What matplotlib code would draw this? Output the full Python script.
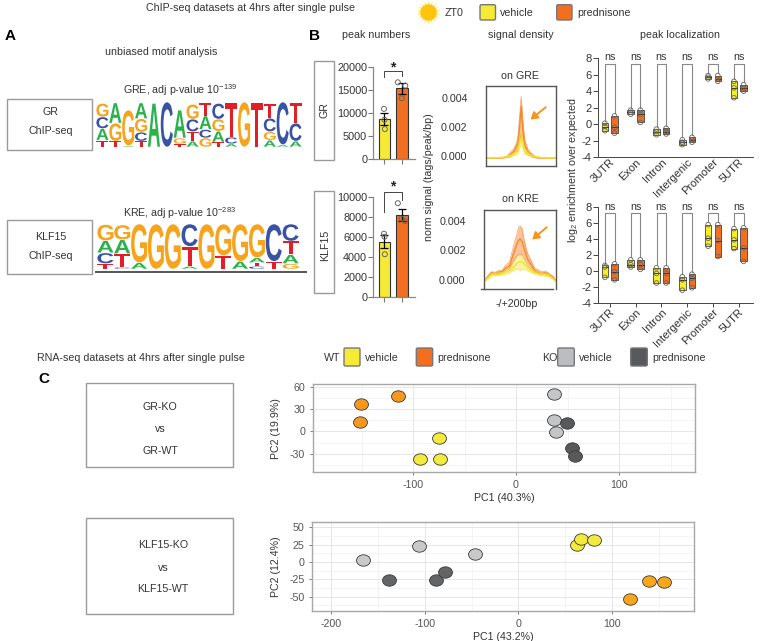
import matplotlib
matplotlib.use("Agg")
import matplotlib.pyplot as plt
from matplotlib.patches import Rectangle, FancyBboxPatch
from matplotlib.patheffects import AbstractPathEffect
from matplotlib.path import Path
from matplotlib.transforms import Affine2D, ScaledTranslation

plt.rcParams["font.family"] = ["Liberation Sans", "DejaVu Sans"]
plt.rcParams["mathtext.default"] = "regular"
plt.rcParams["axes.unicode_minus"] = False

W, H = 764, 641

# motif logos, each column bottom -> top (letter, share of logo height)
gre_logo = [
    [("T", .15), ("A", .26), ("C", .26), ("G", .30)],
    [("T", .13), ("G", .40), ("A", .45)],
    [("A", .03), ("G", .79)],
    [("T", .13), ("C", .20), ("G", .30), ("A", .35)],
    [("A", .97)],
    [("C", 1.0)],
    [("T", .07), ("G", .13), ("A", .62)],
    [("A", .13), ("T", .21), ("C", .28), ("G", .33)],
    [("G", .20), ("C", .19), ("A", .30), ("T", .30)],
    [("T", .11), ("A", .24), ("G", .27), ("C", .35)],
    [("A", .07), ("C", .15), ("T", .76)],
    [("G", 1.0)],
    [("T", .98)],
    [("A", .15), ("G", .19), ("C", .30), ("T", .33)],
    [("A", .05), ("C", .95)],
    [("A", .13), ("C", .40), ("T", .45)],
]
kre_logo = [
    [("T", .12), ("C", .24), ("A", .27), ("G", .36)],
    [("C", .04), ("T", .30), ("A", .31), ("G", .33)],
    [("A", .14), ("G", .86)],
    [("G", 1.0)],
    [("G", 1.0)],
    [("A", .06), ("T", .44), ("C", .50)],
    [("G", 1.0)],
    [("T", .30), ("G", .70)],
    [("A", .17), ("G", .83)],
    [("C", .06), ("T", .08), ("A", .11), ("G", .75)],
    [("T", .17), ("C", .83)],
    [("G", .12), ("A", .20), ("T", .30), ("C", .38)],
]
logo_cols = {"A": "#2bb24c", "C": "#3953a4", "G": "#f7a41d", "T": "#e21f26"}

# peak numbers
gr_peaks = [8700, 15300]
gr_err = [1300, 1200]
gr_pts = [[10860, 8490, 6475], [16620, 15900, 13160]]
klf_peaks = [5500, 8200]
klf_err = [650, 620]
klf_pts = [[6300, 6000, 4250], [9350, 7550, 7800]]
pt_off = [[-.03, .0, .02], [-.23, .2, .0]]

# signal density
dens_x = [-200, -180, -160, -140, -120, -100, -80, -60, -40, -20, -10, 0, 10, 20, 40, 60, 80, 100, 120, 140, 160, 180, 200]
gre_pred_hi = [.00003, .00003, .00004, .00004, .00005, .00008, .00015, .00045, .0007, .0013, .0027, .0043, .0026, .0013, .0006, .00035, .00012, .00006, .00004, .00003, .00003, .00002, .00002]
gre_pred_mid = [.00001, .00002, .00002, .00003, .00004, .00006, .0001, .0003, .0005, .0010, .0020, .0036, .0019, .0009, .0004, .00022, .00008, .00005, .00003, .00002, .00002, .00001, .00001]
gre_pred_lo = [.0, .0, .00001, .00001, .00002, .00003, .00005, .00012, .00035, .0006, .0011, .0017, .0011, .0005, .00025, .0001, .00004, .00002, .00002, .00001, .00001, .0, .0]
gre_veh_hi = [.00004, .00004, .00005, .00006, .00008, .0001, .00015, .00025, .0004, .0007, .0013, .0019, .0013, .0007, .0004, .00024, .00016, .0001, .00007, .00005, .00004, .00004, .00003]
gre_veh_mid = [.00003, .00003, .00004, .00005, .00006, .00008, .00012, .0002, .0003, .0005, .0010, .0014, .0010, .0005, .0003, .0002, .00012, .00008, .00005, .00004, .00003, .00003, .00002]
gre_veh_lo = [.00001, .00002, .00002, .00003, .00004, .00005, .00008, .00012, .0002, .0003, .0007, .0009, .0007, .0003, .0002, .00012, .00008, .00005, .00003, .00002, .00002, .00001, .00001]
kre_pred_hi = [.0, .00035, .00062, .00058, .0007, .00075, .0011, .0013, .0023, .0032, .0037, .0038, .0036, .0029, .0019, .0014, .00085, .00075, .0006, .00068, .0005, .00032, .0]
kre_pred_mid = [-.00002, .00025, .00055, .00048, .0006, .00062, .0009, .0010, .0018, .0025, .0028, .0029, .0027, .0023, .0015, .0011, .0007, .00058, .0005, .00055, .00042, .00024, -.00002]
kre_pred_lo = [-.00005, .00018, .00045, .00038, .0005, .0005, .00075, .0008, .0013, .0017, .0018, .0018, .0018, .0015, .0011, .0008, .00062, .00045, .00042, .00042, .00032, .00016, -.00005]
kre_veh_hi = [-.00002, .00022, .00052, .0005, .00058, .00055, .00075, .00085, .0012, .0015, .0017, .0017, .0016, .0015, .0011, .0009, .00065, .00062, .0005, .00052, .00042, .0002, -.00004]
kre_veh_mid = [-.00004, .00018, .00042, .00045, .00042, .0005, .0006, .0007, .0009, .0012, .0013, .0013, .0013, .0012, .0009, .0007, .00055, .0005, .00045, .0004, .00035, .00014, -.00005]
kre_veh_lo = [-.00006, .00012, .00032, .00035, .00035, .0004, .00045, .00055, .0007, .0008, .0008, .0007, .0008, .0008, .0007, .00055, .00045, .0004, .00035, .0003, .00028, .0001, -.00007]

# peak localization: min, median, max
regions = ["3UTR", "Exon", "Intron", "Intergenic", "Promoter", "5UTR"]
top_veh = [[-.8, -.3, .1], [1.2, 1.45, 1.7], [-1.3, -.9, -.6], [-2.5, -2.2, -1.9], [5.5, 5.7, 5.9], [3.2, 4.4, 5.2]]
top_pred = [[-1.1, -.4, 1.0], [.2, 1.2, 1.7], [-1.2, -.9, -.5], [-2.2, -1.9, -1.6], [5.2, 5.5, 5.9], [4.0, 4.4, 4.8]]
bot_veh = [[-.8, .5, .7], [.5, .8, 1.4], [-1.5, -.3, .4], [-2.4, -1.1, -.7], [3.1, 4.1, 5.8], [2.8, 3.9, 5.3]]
bot_pred = [[-1.1, -.1, .9], [.2, .8, 1.4], [-1.5, -.3, .4], [-2.1, -.9, -.4], [1.8, 3.8, 5.8], [1.2, 2.9, 5.4]]

# PCA
gr_wt_veh = ([-74.8, -93.2, -73.8], [-9.5, -37.8, -37])
gr_wt_pred = ([-114.9, -150.8, -151.8], [48.2, 36.9, 12.2])
gr_ko_veh = ([37.2, 37.2, 38.8], [50.7, 15.3, -.5])
gr_ko_pred = ([49.8, 54.7, 57.6], [10.8, -22.1, -33.3])
klf_wt_veh = ([62.7, 67.4, 81], [24.5, 32.7, 31.3])
klf_wt_pred = ([119.8, 139.4, 155.8], [-53.8, -27.4, -28.8])
klf_ko_veh = ([-166.5, -105.9, -46], [3.4, 22.6, 11.5])
klf_ko_pred = ([-138.7, -87.7, -78.4], [-25.5, -25.5, -13.9])

YEL = "#f5ea35"
ORA = "#f26f21"
TXT = "#333333"
BOX = "#9a9a9a"
FS = 7.7


class FitBox(AbstractPathEffect):
    # squeeze a glyph into a pixel box, for the sequence logo letters
    def __init__(self, x, ybot, w, h):
        super().__init__()
        self.x, self.y, self.w, self.h = x, H - ybot, w, h

    def draw_path(self, renderer, gc, tpath, affine, rgbFace=None):
        e = affine.transform_path(tpath).get_extents()
        t = Affine2D().translate(-e.x0, -e.y0).scale(self.w / e.width, self.h / e.height).translate(self.x, self.y)
        renderer.draw_path(gc, tpath, affine + t, rgbFace)


fig = plt.figure(figsize=(W / 100, H / 100), dpi=100)


def px_axes(x0, y0, x1, y1):
    return fig.add_axes([x0 / W, 1 - y1 / H, (x1 - x0) / W, (y1 - y0) / H])


ov = fig.add_axes([0, 0, 1, 1], zorder=5)
ov.set_xlim(0, W)
ov.set_ylim(H, 0)
ov.axis("off")
ov.patch.set_alpha(0)


def label(x, y, s, size=FS, ha="center", **kw):
    ov.text(x, y, s, fontsize=size, ha=ha, va="center", color=kw.pop("color", TXT), **kw)


def frame(x0, y0, x1, y1):
    ov.add_patch(Rectangle((x0, y0), x1 - x0, y1 - y0, fc="none", ec=BOX, lw=1))


def swatch(x0, y0, x1, y1, col):
    ov.add_patch(FancyBboxPatch((x0 + 1, y0 + 1), x1 - x0 - 2, y1 - y0 - 2, boxstyle="round,pad=1,rounding_size=1.5", fc=col, ec="#777777", lw=1))


def logo(cols, x0, x1, base, height):
    cw = (x1 - x0) / len(cols)
    for i, col in enumerate(cols):
        y = base
        for ch, frac in col:
            h = frac * height
            ov.text(x0 + cw * (i + .5), y - h / 2, ch, color=logo_cols[ch], fontsize=3, weight="bold", ha="center", va="center",
                    path_effects=[FitBox(x0 + cw * i + .4, y - .3, cw - .8, h - .6)])
            y -= h


# headers
label(250, 8, "ChIP-seq datasets at 4hrs after single pulse")
ov.scatter([428], [12], s=300, marker=(18, 1, 0), color="#ffe135", lw=0)
ov.scatter([428], [12], s=140, marker="o", color="#ffc40c", lw=0)
label(445, 12.5, "ZT0", ha="left")
swatch(480, 4.7, 495.5, 20, YEL)
label(500, 12.5, "vehicle", ha="left")
swatch(556.7, 4.7, 572, 20, ORA)
label(577, 12.5, "prednisone", ha="left")

# A
label(10.5, 36, "A", size=11, weight="bold", color="black")
label(161, 52, "unbiased motif analysis")
label(123, 90, "GRE, adj p-value 10$^{-139}$", ha="left")
label(123, 213, "KRE, adj p-value 10$^{-283}$", ha="left")
frame(6.5, 99, 91.5, 150)
frame(6.5, 220, 91.5, 274)
label(50, 112, "GR")
label(51, 131.5, "ChIP-seq")
label(51, 237, "KLF15")
label(51, 256, "ChIP-seq")
logo(gre_logo, 96, 302, 147, 45)
logo(kre_logo, 97, 299, 269, 45)
ov.plot([96, 306], [272, 272], color="#555555", lw=1.4)

# B
label(314, 36, "B", size=11, weight="bold", color="black")
label(376, 35, "peak numbers")
label(521, 35, "signal density")
label(680, 35, "peak localization")
frame(313.5, 61, 333.5, 160)
frame(313.5, 190.5, 333.5, 293)
label(325, 110, "GR", rotation=90)
label(325, 245, "KLF15", rotation=90)


def bar_panel(y0, y1, ymax, step, vals, errs, pts, brk, star_y):
    ax = px_axes(372.7, y0, 415, y1)
    ax.bar([0, 1], vals, width=.67, color=[YEL, ORA], edgecolor="#333333", lw=.8)
    ax.errorbar([0, 1], vals, yerr=errs, fmt="none", ecolor="black", elinewidth=.9, capsize=3.2, capthick=.9)
    for i, p in enumerate(pts):
        ax.scatter([i + o for o in pt_off[i]], p, s=13, fc="none", ec="#666666", lw=.7, zorder=3)
    ax.set_xlim(-.68, 1.76)
    ax.set_ylim(0, ymax)
    ax.set_xticks([0, 1], ["", ""])
    ax.set_yticks(range(0, ymax + 1, step))
    ax.tick_params(labelsize=7.8, length=3.5, width=.8, pad=.5, labelcolor=TXT, color="#777777")
    for s in ("top", "right"):
        ax.spines[s].set_visible(False)
    for s in ("left", "bottom"):
        ax.spines[s].set_color("#888888")
        ax.spines[s].set_linewidth(.9)
    ax.plot([0, 0, 1, 1], brk, color="#444444", lw=.7, clip_on=False)
    ax.text(.5, star_y, "*", ha="center", va="center", fontsize=10, weight="bold", color="#222222", clip_on=False)


bar_panel(66.7, 159, 20000, 5000, gr_peaks, gr_err, gr_pts, [17840, 19060, 19060, 17900], 19800)
bar_panel(196.7, 296.7, 10000, 2000, klf_peaks, klf_err, klf_pts, [8500, 10500, 10500, 9700], 11000)

# signal density
label(429, 177, "norm signal (tags/peak/bp)", rotation=90)
label(520, 76, "on GRE")
label(520, 199, "on KRE")
label(517, 304, "-/+200bp")
for y, s, x in [(99, "0.004", 455), (127.7, "0.002", 453.7), (156.7, "0.000", 453.7), (222, "0.004", 453), (251, "0.002", 452.7), (280.7, "0.000", 451.7)]:
    label(x, y, s)


def dens_panel(x0, y0, x1, y1, bot, series):
    ax = px_axes(x0, y0, x1, y1)
    for hi, mid, lo, band, line in series:
        ax.fill_between(dens_x, lo, hi, color=band, alpha=.8, lw=0)
        ax.plot(dens_x, hi, color=line, lw=.5, alpha=.8)
        ax.plot(dens_x, lo, color=line, lw=.5, alpha=.8)
        ax.plot(dens_x, mid, color=line, lw=1)
    ax.set_xlim(-200, 200)
    ax.set_ylim(bot, bot + (y1 - y0) / 14400)
    ax.set_xticks([])
    ax.set_yticks([])
    for s in ax.spines.values():
        s.set_color("#555555")
        s.set_linewidth(1)
    return ax


dens_panel(486, 86, 556.3, 166.3, -.00055, [
    (gre_pred_hi, gre_pred_mid, gre_pred_lo, "#f9b27c", "#f58a2c"),
    (gre_veh_hi, gre_veh_mid, gre_veh_lo, "#f6f08c", "#efe430"),
])
kre_ax = dens_panel(484.3, 209.7, 556.3, 289, -.00058, [
    (kre_pred_hi, kre_pred_mid, kre_pred_lo, "#f9b583", "#f58a2c"),
    (kre_veh_hi, kre_veh_mid, kre_veh_lo, "#f6f08c", "#efe430"),
])
kre_ax.spines["bottom"].set_visible(False)
ov.plot([481, 552.7], [289, 289], color="#555555", lw=1)
for a, b in [((545.7, 107.3), (530.5, 119.5)), ((546.7, 227.3), (532.2, 239.5))]:
    ov.annotate("", xy=b, xytext=a, arrowprops=dict(arrowstyle="-|>,head_width=.25,head_length=.4", color="#f7941d", lw=1.4, shrinkA=0, shrinkB=0))


# localization
def loc_panel(y0, y1, veh, pred, top, dx, tick_len):
    ax = px_axes(598, y0, 753, y1)
    for i in range(len(regions)):
        for vals, col, off in [(veh[i], "#f5ee20", -.187), (pred[i], ORA, .187)]:
            lo, med, hi = vals
            ax.bar(i + off, hi - lo, bottom=lo, width=.25, color=col, edgecolor="#444444", lw=.6)
            ax.plot([i + off - .125, i + off + .125], [med, med], color="#333333", lw=.7)
            ax.scatter([i + off] * 3, vals, s=11, fc="none", ec="#666666", lw=.6, zorder=3, clip_on=False)
        ax.plot([i - .187, i - .187, i + .187, i + .187], [veh[i][2] + .3, top, top, pred[i][2] + .3], color="#888888", lw=.8)
        ax.text(i, top + .85, "ns", ha="center", va="center", fontsize=FS, color=TXT, clip_on=False)
    ax.set_xlim(-.453, 5.55)
    ax.set_ylim(-4, 8)
    ax.set_yticks(range(-4, 9, 2))
    ax.set_xticks(range(6), regions, rotation=45, ha="right", rotation_mode="anchor")
    for lab in ax.get_xticklabels():
        lab.set_transform(lab.get_transform() + ScaledTranslation(dx / 72, 0, fig.dpi_scale_trans))
    ax.tick_params(labelsize=8, length=3.5, width=.7, pad=1, labelcolor=TXT, color="#444444")
    ax.tick_params(axis="x", pad=0, length=tick_len)
    for s in ("top", "right"):
        ax.spines[s].set_visible(False)
    for s in ("left", "bottom"):
        ax.spines[s].set_color("#444444")
        ax.spines[s].set_linewidth(.7)
    ax.patch.set_alpha(0)


loc_panel(58.3, 157, top_veh, top_pred, 7.27, 12, 0)
loc_panel(207, 303, bot_veh, bot_pred, 7.2, 10.5, 3)
label(572.7, 170, "log$_2$ enrichment over expected", rotation=90)

# C
label(140.5, 357.7, "RNA-seq datasets at 4hrs after single pulse")
label(44, 379, "C", size=11, weight="bold", color="black")
frame(86.3, 383.3, 233.3, 466.7)
frame(86.3, 518.3, 233.3, 614)
label(160, 407, "GR-KO")
label(160, 429, "vs")
label(160, 451, "GR-WT")
label(163, 545, "KLF15-KO")
label(163, 568, "vs")
label(163, 589, "KLF15-WT")

label(324.3, 358.3, "WT", ha="left")
swatch(344, 348, 360, 366, YEL)
label(365, 358.3, "vehicle", ha="left")
swatch(416.3, 348, 432.7, 366, ORA)
label(437.7, 358.3, "prednisone", ha="left")
label(542.3, 358.3, "KO", ha="left")
swatch(557.7, 348, 574.3, 366, "#bcbdc0")
label(579.3, 358.3, "vehicle", ha="left")
swatch(630.7, 348, 647.3, 366, "#58595b")
label(652.3, 358.3, "prednisone", ha="left")

ellipse = Path.unit_circle().transformed(Affine2D().scale(1, .82))


def pca_panel(box, groups, xlim, ylim, xt, yt, xl, yl):
    ax = px_axes(*box)
    ax.set_axisbelow(True)
    ax.grid(True, which="major", color="#e6e6e6", lw=.7)
    ax.grid(True, which="minor", color="#f0f0f0", lw=.5)
    for (xs, ys), col in groups:
        ax.scatter(xs, ys, s=100, marker=ellipse, color=col, edgecolor="#3a3a3a", lw=.6, zorder=3)
    ax.set_xticks(xt)
    ax.set_yticks(yt)
    ax.set_xticks([(a + b) / 2 for a, b in zip(xt[:-1], xt[1:])] + [xt[0] - (xt[1] - xt[0]) / 2, xt[-1] + (xt[1] - xt[0]) / 2], minor=True)
    ax.set_yticks([(a + b) / 2 for a, b in zip(yt[:-1], yt[1:])] + [yt[0] - (yt[1] - yt[0]) / 2, yt[-1] + (yt[1] - yt[0]) / 2], minor=True)
    ax.set_xlim(*xlim)
    ax.set_ylim(*ylim)
    ax.tick_params(which="minor", length=0)
    ax.tick_params(which="major", labelsize=FS, length=2.5, width=.6, pad=3, labelcolor="#555555", color="#666666")
    ax.set_xlabel(xl, fontsize=FS, color=TXT, labelpad=2.5)
    ax.set_ylabel(yl, fontsize=FS, color=TXT, labelpad=6)
    for s in ax.spines.values():
        s.set_color("#a8a8a8")
        s.set_linewidth(1)


pca_panel((312.7, 384.3, 695.3, 472),
          [(gr_wt_pred, "#f7971d"), (gr_wt_veh, "#f3ea3c"), (gr_ko_veh, "#c4c5c7"), (gr_ko_pred, "#58595b")],
          (-197.4, 174), (-54.8, 63.6), [-100, 0, 100], [-30, 0, 30, 60], "PC1 (40.3%)", "PC2 (19.9%)")
pca_panel((312.3, 521.7, 694.3, 611.3),
          [(klf_ko_veh, "#c8c9cb"), (klf_ko_pred, "#636466"), (klf_wt_veh, "#f3ea3c"), (klf_wt_pred, "#faa61a")],
          (-220.3, 188.2), (-71.2, 58.2), [-200, -100, 0, 100], [-50, -25, 0, 25, 50], "PC1 (43.2%)", "PC2 (12.4%)")

fig.savefig("out.png", dpi=100)
